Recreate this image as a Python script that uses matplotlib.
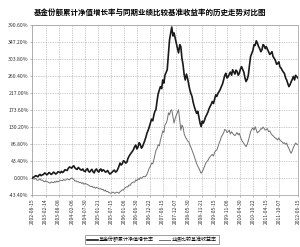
import matplotlib
matplotlib.use("Agg")
import matplotlib.pyplot as plt
import pandas as pd

plt.rcParams['font.family'] = ['Noto Sans CJK SC', 'DejaVu Sans']

title = "基金份额累计净值增长率与同期业绩比较基准收益率的历史走势对比图"
fund_label = "基金份额累计净值增长率"
bench_label = "业绩比较基准收益率"

# semi-monthly samples, Aug 2002 .. Jun 2012
dates = pd.date_range("2002-08-15", "2012-06-15", freq="SMS")

fund = [
    0, 2, 3, 6, 5, 3, 7, 9, 6, 8, 9, 13, 11, 8, 10, 14, 12, 9, 11, 15,
    13, 10, 12, 16, 15, 13, 17, 14, 16, 21, 20, 19, 24, 28, 27, 25, 29, 31, 26, 23,
    22, 27, 24, 21, 20, 23, 18, 16, 21, 24, 17, 15, 19, 22, 16, 13, 20, 23, 18, 15,
    21, 23, 17, 21, 19, 15, 16, 19, 14, 10, 12, 15, 18, 20, 15, 17, 22, 30, 38, 33,
    36, 44, 42, 38, 40, 49, 55, 60, 64, 68, 72, 80, 84, 74, 78, 90, 86, 76, 80, 88,
    95, 105, 115, 122, 130, 141, 150, 146, 160, 170, 174, 198, 215, 225, 233, 228, 250, 242, 262, 270,
    276, 318, 352, 370, 385, 362, 370, 356, 345, 330, 319, 340, 335, 305, 290, 262, 250, 265, 255, 238,
    225, 215, 208, 192, 182, 172, 165, 170, 156, 140, 131, 145, 140, 148, 156, 162, 168, 176, 182, 188,
    195, 190, 200, 212, 208, 216, 220, 226, 233, 240, 250, 262, 267, 255, 258, 265, 270, 262, 276, 270,
    265, 275, 272, 262, 267, 278, 284, 276, 270, 255, 246, 252, 262, 290, 310, 318, 325, 340, 338, 350,
    344, 335, 330, 322, 327, 340, 338, 330, 335, 328, 322, 315, 318, 322, 310, 305, 300, 290, 292, 296,
    284, 280, 275, 270, 267, 255, 250, 240, 233, 238, 245, 252, 259, 250, 262, 258, 255,
]

bench = [
    0, -2, -3, -1, -5, -6, -4, -2, -6, -5, -8, -10, -7, -9, -10, -12, -13, -10, -11, -12,
    -9, -11, -8, -10, -8, -6, -6, -7, -4, -6, -5, -2, -3, -5, -2, 0, -1, -4, -8, -7,
    -10, -9, -12, -11, -14, -12, -16, -14, -15, -17, -18, -20, -22, -21, -24, -23, -26, -24, -25, -27,
    -28, -27, -30, -29, -33, -31, -35, -34, -37, -38, -39, -37, -36, -39, -38, -36, -37, -39, -35, -33,
    -30, -31, -26, -24, -22, -23, -18, -19, -14, -12, -10, -11, -5, -7, -2, -4, 1, -1, 2, 4,
    3, 5, 10, 18, 25, 30, 38, 36, 46, 58, 70, 76, 85, 82, 97, 108, 120, 116, 135, 140,
    148, 166, 161, 172, 174, 155, 140, 152, 160, 168, 174, 145, 122, 135, 130, 112, 105, 100, 95, 92,
    85, 78, 71, 62, 55, 45, 37, 30, 25, 18, 12, 16, 22, 30, 37, 42, 45, 50, 54, 58,
    60, 56, 65, 70, 71, 80, 88, 96, 105, 110, 115, 124, 122, 116, 118, 122, 112, 118, 114, 110,
    108, 112, 116, 110, 114, 105, 97, 92, 88, 84, 80, 86, 95, 108, 118, 124, 128, 122, 131, 122,
    115, 118, 120, 126, 125, 130, 127, 122, 124, 126, 118, 120, 114, 110, 108, 104, 102, 100, 97, 102,
    97, 94, 92, 88, 90, 86, 89, 80, 75, 68, 63, 70, 78, 84, 89, 86, 85,
]

tick_dates = [
    "2002-08-15", "2003-02-14", "2003-08-08", "2004-02-06", "2004-07-30",
    "2005-01-21", "2005-07-15", "2006-01-06", "2006-06-30", "2006-12-22",
    "2007-06-15", "2007-12-07", "2008-05-30", "2008-11-21", "2009-05-15",
    "2009-11-06", "2010-04-30", "2010-10-22", "2011-04-15", "2011-10-07",
    "2012-06-15",
]
y_ticks = [-43.4, 0, 43.4, 86.8, 130.2, 173.6, 217.0, 260.4, 303.8, 347.2, 390.6]

fig = plt.figure(figsize=(3.0, 2.47), dpi=100)
ax = fig.add_axes([0.107, 0.2105, 0.886, 0.689])

ax.plot(dates, fund, color="#1a1a1a", lw=1.2, label=fund_label, zorder=3)
ax.plot(dates, bench, color="#707070", lw=0.7, label=bench_label, zorder=2)

ticks = pd.to_datetime(tick_dates)
ax.set_xticks(ticks)
ax.set_xticklabels(tick_dates, rotation=90, fontsize=3.6, color="#333333")
ax.set_xlim(ticks[0], ticks[-1])

ax.set_yticks(y_ticks)
ax.set_yticklabels(["%.2f%%" % v for v in y_ticks], fontsize=3.7, color="#333333")
ax.set_ylim(y_ticks[0], y_ticks[-1])

ax.grid(True, color="#9a9a9a", ls=(0, (1, 1.5)), lw=0.5)
ax.tick_params(length=1.5, width=0.4, pad=1, color="#888888")
for s in ax.spines.values():
    s.set_color("#999999")
    s.set_linewidth(0.5)

fig.text(0.5, 0.951, title, ha="center", va="center", fontsize=5.4, fontweight="bold")

leg = fig.legend(loc="center", bbox_to_anchor=(0.505, 0.03), ncol=2, fontsize=3.6,
                 frameon=True, fancybox=False, edgecolor="#555555", handlelength=2.2,
                 borderpad=0.4, columnspacing=1.0, handletextpad=0.3)
leg.get_frame().set_linewidth(0.5)

fig.savefig("out.png", dpi=100)
